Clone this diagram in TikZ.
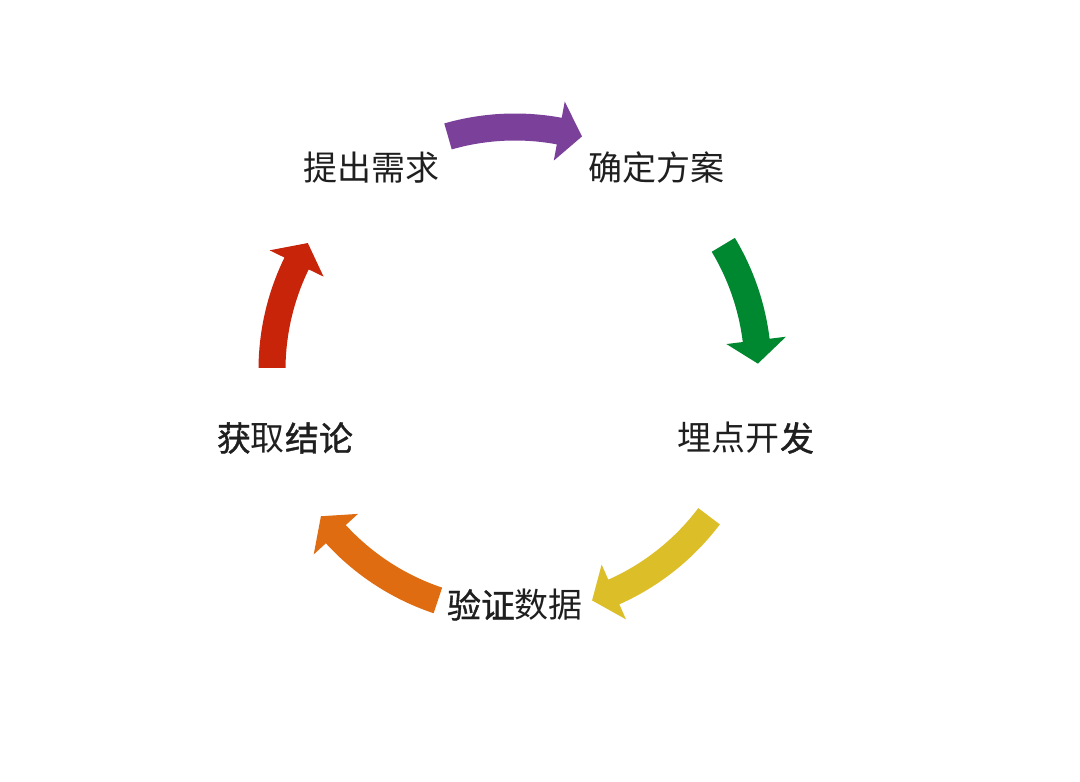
\documentclass[tikz,border=0pt]{standalone}
\usepackage{fontspec}
\newfontfamily\cjk{Noto Sans CJK SC}
\newfontfamily\cjkb[FakeBold=1.1]{Noto Sans CJK SC}
\definecolor{cpurple}{RGB}{122,64,154}
\definecolor{cgreen}{RGB}{0,136,48}
\definecolor{cyellow}{RGB}{220,190,40}
\definecolor{corange}{RGB}{224,108,18}
\definecolor{cred}{RGB}{200,36,10}
\begin{document}
\begin{tikzpicture}[x=1pt,y=1pt,
  lbl/.style={font=\cjk\fontsize{34}{40}\selectfont, inner sep=0pt, text=black!88}]
\useasboundingbox (-515,-412) rectangle (565,370);
\fill[white] (-515,-412) rectangle (565,370);
\def\R{243}
\pgfmathsetmacro\Ro{\R+13.5}
\pgfmathsetmacro\Ri{\R-13.5}
\pgfmathsetmacro\Ho{\R+30}
\pgfmathsetmacro\Hi{\R-30}
\foreach \st/\tp/\col in {106/74/cpurple, 31/1.5/cgreen, -37/-71.5/cyellow, -108.5/-143/corange, 179.5/148.5/cred}{
  \pgfmathsetmacro\hb{\tp+5.5}
  \fill[\col] (\st:\Ro) arc[start angle=\st, end angle=\hb, radius=\Ro pt]
     -- (\hb:\Ho) -- (\tp:\R) -- (\hb:\Hi)
     -- (\hb:\Ri) arc[start angle=\hb, end angle=\st, radius=\Ri pt] -- cycle;
}
\node[lbl] (tichu) at (-143,202) {提出需求};
\node[lbl] (queding) at (142,202) {确定方案};
\node[lbl] (maidian) at (231,-68) {埋点开{\cjkb 发}};
\node[lbl] (yanzheng) at (0,-235) {{\cjkb 验证}数据};
\node[lbl] (huoqu) at (-230,-68) {{\cjkb 获}取{\cjkb 结论}};
\end{tikzpicture}
\end{document}
